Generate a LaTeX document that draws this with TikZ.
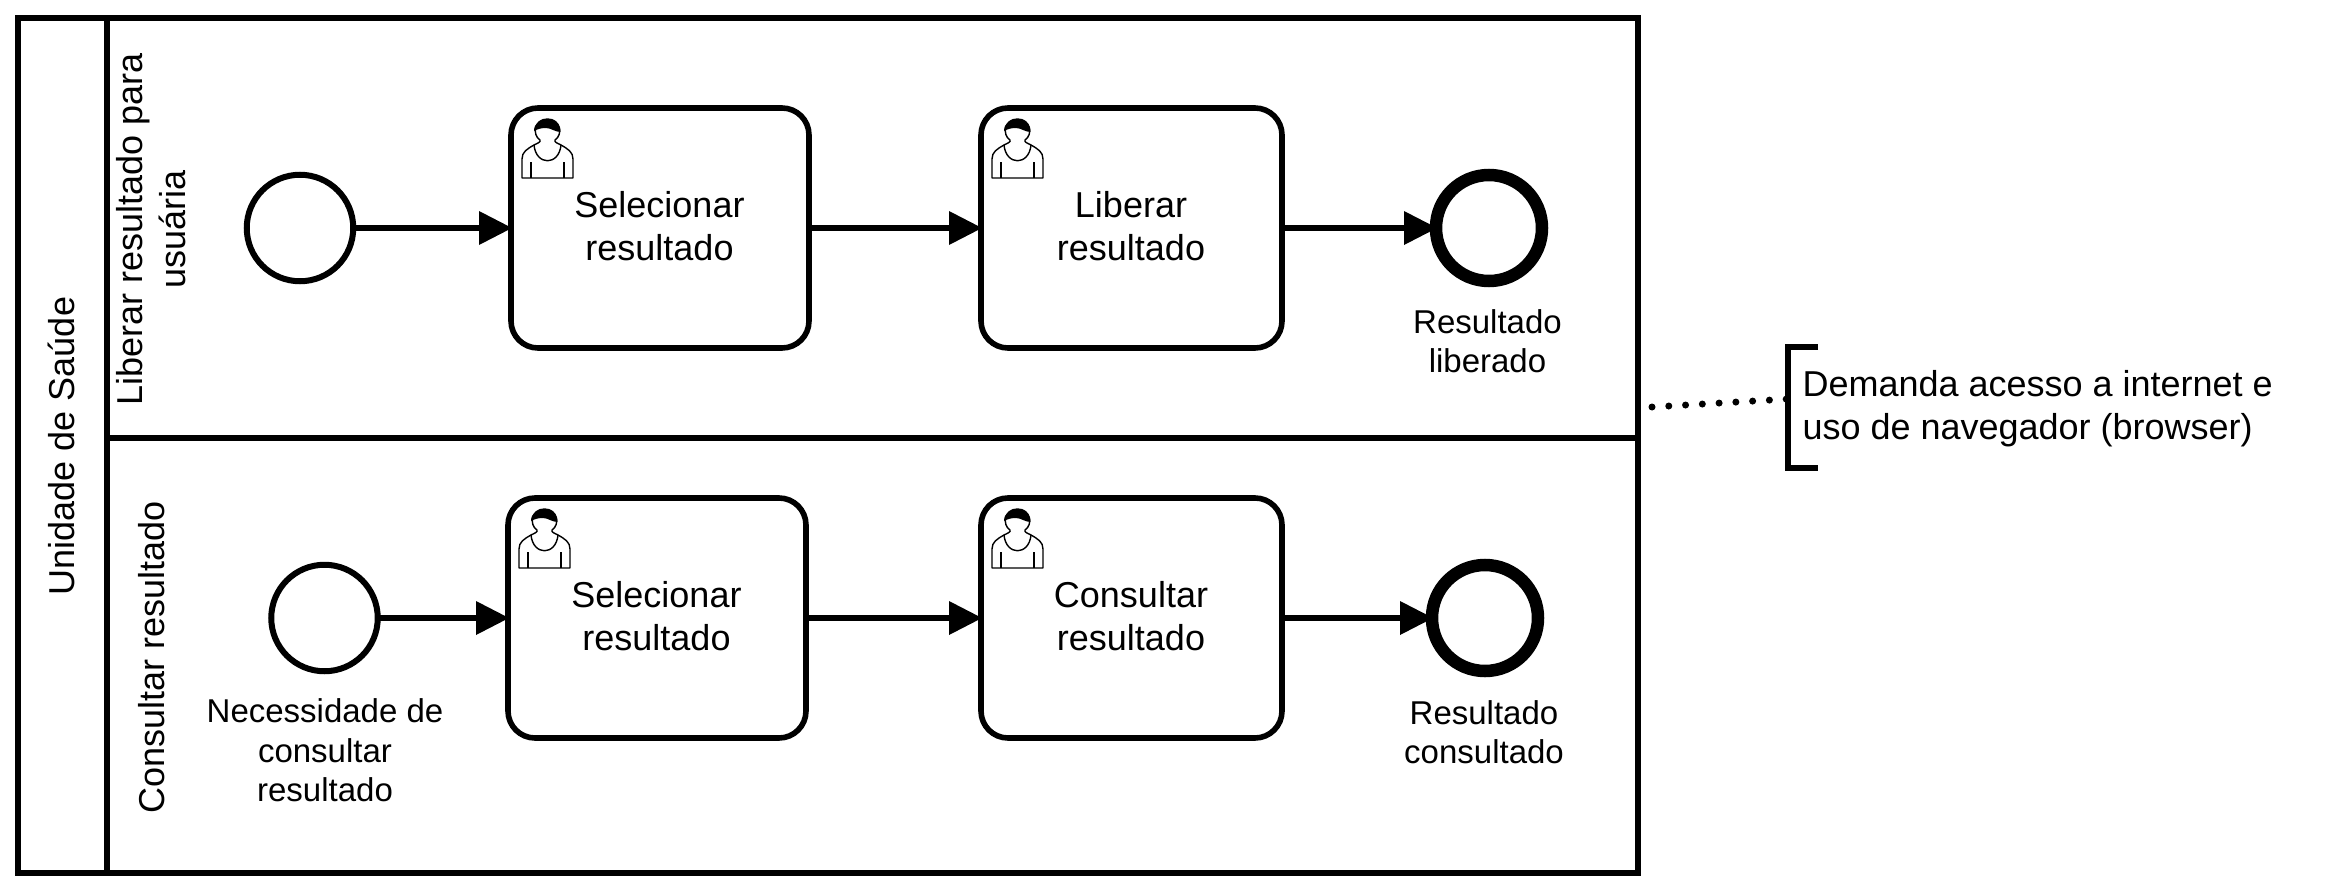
\documentclass[tikz,border=0pt]{standalone}
\usepackage{fontspec}
\setmainfont{Liberation Sans}
\usetikzlibrary{arrows.meta}
\tikzset{
  bigtxt/.style={font=\fontsize{36}{43}\selectfont,align=center,inner sep=0pt,outer sep=0pt},
  smalltxt/.style={font=\fontsize{33}{39.5}\selectfont,align=center,inner sep=0pt,outer sep=0pt},
  framebox/.style={draw=black,line width=6.4pt,rectangle,inner sep=0pt,outer sep=0pt,minimum width=#1},
  taskbox/.style={draw=black,fill=white,line width=5.6pt,rectangle,rounded corners=27pt,inner sep=0pt,outer sep=0pt,minimum width=#1,minimum height=240pt},
  tasktxt/.style={bigtxt},
  startev/.style={draw=black,fill=white,line width=6pt,circle,inner sep=0pt,outer sep=0pt,minimum size=106.5pt},
  endev/.style={draw=black,fill=white,line width=12.5pt,circle,inner sep=0pt,outer sep=0pt,minimum size=106pt},
  flow/.style={draw=black,line width=6.4pt,-{Triangle[length=33pt,width=34pt,line width=0pt]},shorten >=-1pt},
  usericon/.pic={
    \draw[line width=1.4pt,fill=white,line join=round] (0,59) -- (0,40) .. controls (0,33) and (5,30) .. (12,26)
      .. controls (16,24) and (19,23) .. (18,21) .. controls (10,16) and (12,0) .. (25.5,0)
      .. controls (39,0) and (41,16) .. (33,21) .. controls (32,23) and (35,24) .. (39,26)
      .. controls (46,30) and (51,33) .. (51,40) -- (51,59) -- cycle;
    \draw[line width=1.4pt] (12,26) .. controls (14,47) and (37,47) .. (39,26);
    \draw[line width=1.4pt] (9,43) -- (9,59) (42,43) -- (42,59);
    \fill[black] (12,12) .. controls (12,-4) and (39,-4) .. (38.5,13)
      .. controls (33,13) and (29,9) .. (24,9) .. controls (19,9) and (16,10) .. (12,12) -- cycle;
  }
}
\begin{document}
\begin{tikzpicture}[x=1pt,y=-1pt]
\path[use as bounding box] (0,0) rectangle (2346,891);
% pool and lanes
\node[framebox=1620pt,minimum height=855pt] (pool) at (828,445.5) {};
\node[framebox=1531pt,minimum height=420pt] (lanea) at (872.5,228) {};
\node[framebox=1531pt,minimum height=435pt] (laneb) at (872.5,655.5) {};
\node[bigtxt,rotate=90] (pooltxt) at (61.5,446) {Unidade de Saúde};
\node[bigtxt,rotate=90] (lanetxta) at (151.5,229.5) {Liberar resultado para\\usuária};
\node[bigtxt,rotate=90] (lanetxtb) at (151.5,657) {Consultar resultado};
% lane a
\node[startev] (sa) at (300,228) {};
\node[taskbox=298pt] (ta) at (660,228) {};
\node[tasktxt] (tat) at (659.5,226) {Selecionar\\resultado};
\node[taskbox=301pt] (tb) at (1131.5,228) {};
\node[tasktxt] (tbt) at (1131,226) {Liberar\\resultado};
\node[endev] (ea) at (1489,228) {};
\node[smalltxt] (ela) at (1487.5,341) {Resultado\\liberado};
\pic at (522,119) {usericon};
\pic at (992,119) {usericon};
\draw[flow] (sa) -- (ta);
\draw[flow] (ta) -- (tb);
\draw[flow] (tb) -- (ea);
% lane b
\node[startev] (sb) at (324.5,618) {};
\node[taskbox=298pt] (tc) at (657,618) {};
\node[tasktxt] (tct) at (656.5,616) {Selecionar\\resultado};
\node[taskbox=301pt] (td) at (1131.5,618) {};
\node[tasktxt] (tdt) at (1131,616) {Consultar\\resultado};
\node[endev] (eb) at (1485,618) {};
\node[smalltxt] (elb) at (325,750.5) {Necessidade de\\consultar\\resultado};
\node[smalltxt] (elc) at (1484,732) {Resultado\\consultado};
\pic at (519,509) {usericon};
\pic at (992,509) {usericon};
\draw[flow] (sb) -- (tc);
\draw[flow] (tc) -- (td);
\draw[flow] (td) -- (eb);
% annotation
\node[bigtxt,align=left,anchor=west] (note) at (1802.5,408.5) {Demanda acesso a internet e\\uso de navegador (browser)};
\coordinate (assocstart) at (1652,407);
\coordinate (assocend) at (1788,399);
\draw[line width=7pt,line cap=round,dash pattern=on 0pt off 16.8pt] (assocstart) -- (assocend);
\draw[line width=6.4pt] (1818,347) -- (1788,347) -- (1788,468) -- (1818,468);
\end{tikzpicture}
\end{document}
